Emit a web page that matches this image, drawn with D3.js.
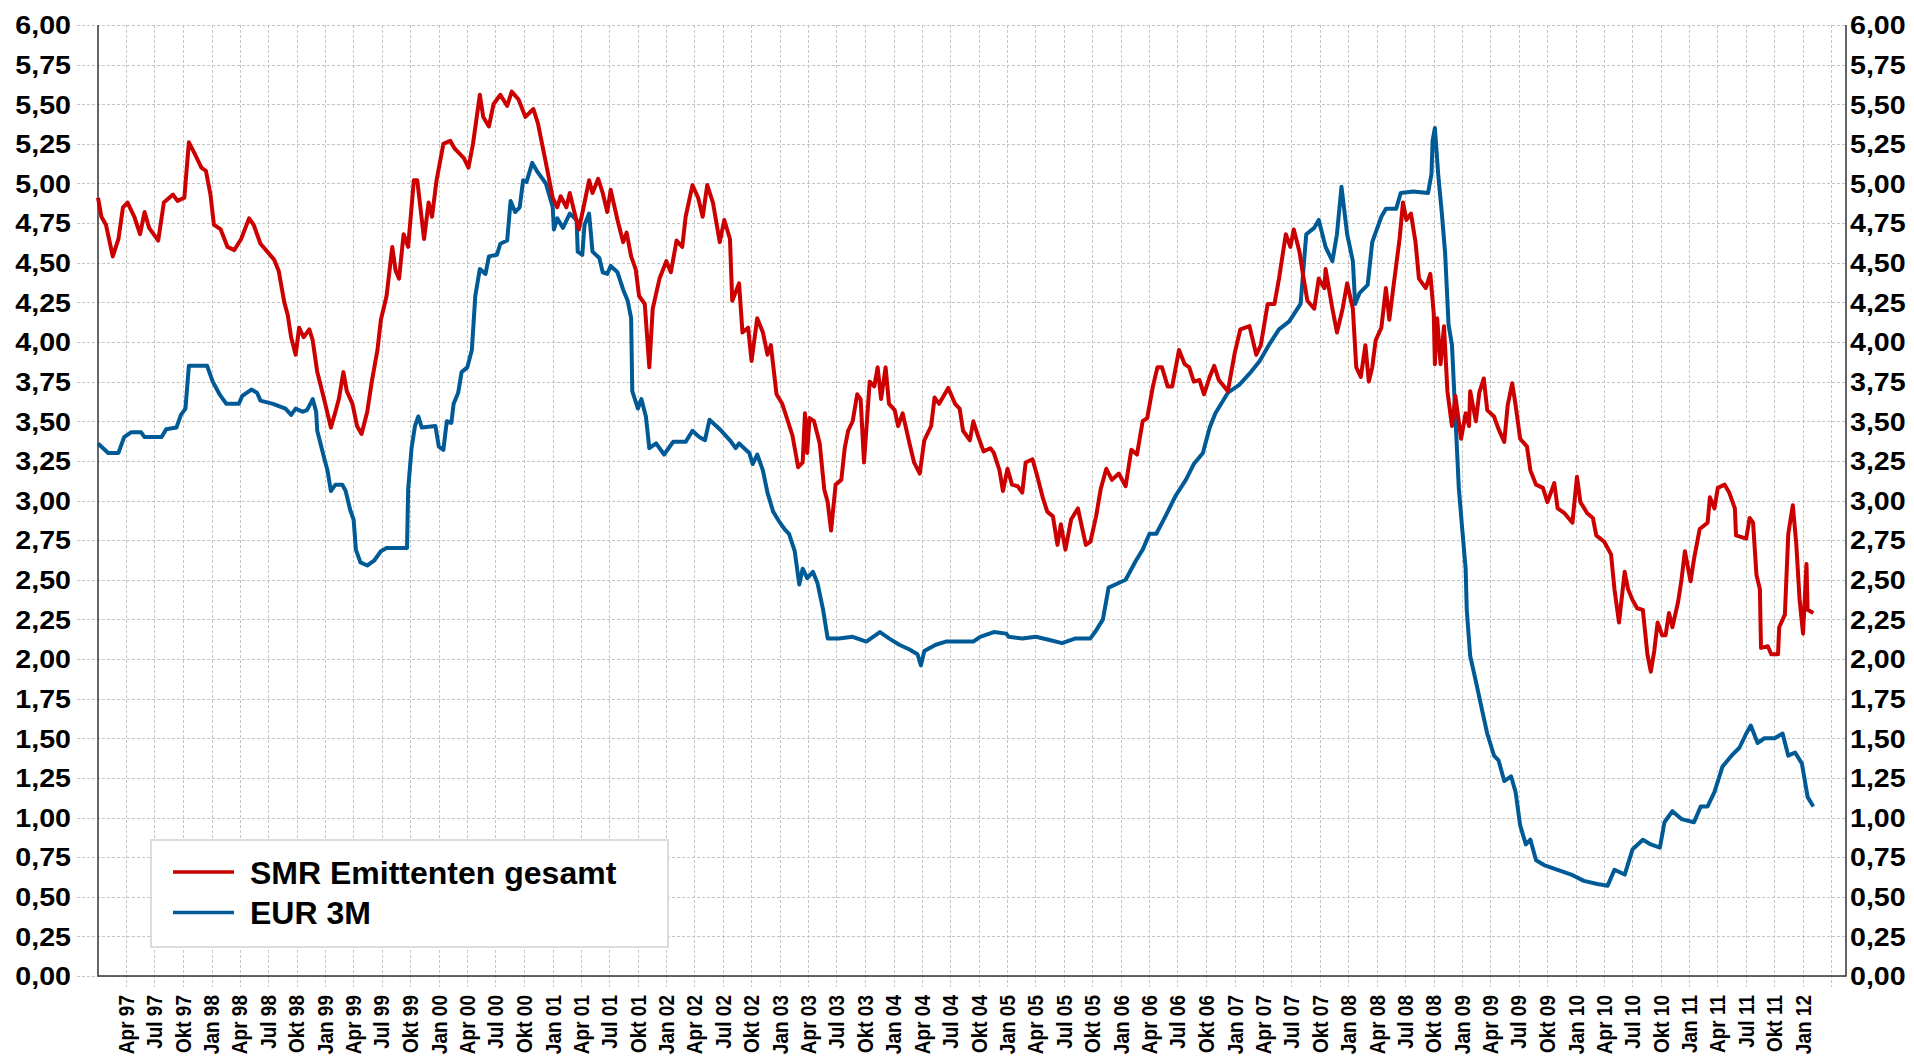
<!DOCTYPE html>
<head>
    <style>
    body { margin: 0; background: #fff; }
    text { font-family: "Liberation Sans", Arial, sans-serif; font-weight: bold; fill: #000; }
    .grid line { stroke: #c4c4c4; stroke-width: 1; stroke-dasharray: 3,2; }
    .frame { stroke: #333; stroke-width: 1.5; }
    .series { fill: none; stroke-width: 4; stroke-linejoin: round; }
    </style>
    <svg width="1914" height="1056"></svg>
    <script src="https://d3js.org/d3.v7.min.js"></script>
</head>
<body>
    <script>

    // [decimal year, yield in %]
    var smrSeries = [
      [1997.00,4.91],[1997.03,4.79],[1997.07,4.74],[1997.13,4.54],[1997.18,4.65],[1997.22,4.85],[1997.26,4.88],
      [1997.32,4.79],[1997.37,4.68],[1997.41,4.82],[1997.45,4.72],[1997.53,4.64],[1997.58,4.88],[1997.66,4.93],
      [1997.70,4.89],[1997.76,4.91],[1997.80,5.26],[1997.85,5.19],[1997.91,5.10],[1997.95,5.08],[1997.99,4.93],
      [1998.02,4.74],[1998.08,4.71],[1998.14,4.60],[1998.20,4.58],[1998.26,4.65],[1998.33,4.78],[1998.37,4.74],
      [1998.43,4.62],[1998.49,4.57],[1998.55,4.52],[1998.59,4.45],[1998.64,4.25],[1998.67,4.17],[1998.70,4.03],
      [1998.74,3.92],[1998.77,4.09],[1998.81,4.03],[1998.86,4.08],[1998.89,4.01],[1998.93,3.81],[1998.99,3.64],
      [1999.05,3.46],[1999.09,3.56],[1999.12,3.64],[1999.16,3.81],[1999.19,3.69],[1999.24,3.61],[1999.28,3.47],
      [1999.32,3.42],[1999.37,3.56],[1999.41,3.75],[1999.46,3.95],[1999.49,4.14],[1999.54,4.29],[1999.59,4.60],
      [1999.62,4.45],[1999.65,4.40],[1999.69,4.68],[1999.73,4.60],[1999.78,5.02],[1999.81,5.02],[1999.87,4.65],
      [1999.91,4.88],[1999.94,4.79],[1999.98,5.02],[2000.04,5.25],[2000.10,5.27],[2000.14,5.22],[2000.22,5.16],
      [2000.26,5.10],[2000.30,5.25],[2000.36,5.56],[2000.39,5.42],[2000.44,5.36],[2000.48,5.50],[2000.54,5.56],
      [2000.60,5.49],[2000.64,5.58],[2000.70,5.53],[2000.76,5.42],[2000.83,5.47],[2000.87,5.38],[2000.94,5.13],
      [2001.00,4.91],[2001.04,4.85],[2001.07,4.92],[2001.12,4.85],[2001.15,4.94],[2001.19,4.82],[2001.23,4.71],
      [2001.28,4.88],[2001.32,5.02],[2001.35,4.94],[2001.40,5.03],[2001.44,4.94],[2001.48,4.82],[2001.51,4.96],
      [2001.57,4.77],[2001.62,4.63],[2001.65,4.69],[2001.69,4.54],[2001.73,4.46],[2001.76,4.29],[2001.81,4.24],
      [2001.85,3.84],[2001.88,4.21],[2001.94,4.40],[2002.00,4.51],[2002.04,4.44],[2002.09,4.64],[2002.14,4.60],
      [2002.17,4.79],[2002.23,4.99],[2002.28,4.91],[2002.32,4.79],[2002.36,4.99],[2002.41,4.88],[2002.47,4.63],
      [2002.51,4.77],[2002.56,4.65],[2002.58,4.26],[2002.64,4.37],[2002.67,4.06],[2002.72,4.09],[2002.75,3.88],
      [2002.80,4.15],[2002.85,4.06],[2002.89,3.92],[2002.92,3.98],[2002.97,3.67],[2003.02,3.61],[2003.07,3.50],
      [2003.11,3.41],[2003.16,3.21],[2003.20,3.24],[2003.22,3.55],[2003.24,3.30],[2003.26,3.52],[2003.30,3.50],
      [2003.35,3.36],[2003.39,3.07],[2003.42,2.99],[2003.45,2.81],[2003.49,3.10],[2003.54,3.13],[2003.57,3.33],
      [2003.60,3.44],[2003.64,3.50],[2003.68,3.67],[2003.71,3.64],[2003.74,3.24],[2003.79,3.75],[2003.83,3.72],
      [2003.86,3.84],[2003.89,3.64],[2003.93,3.84],[2003.96,3.61],[2004.01,3.57],[2004.04,3.47],[2004.08,3.55],
      [2004.14,3.36],[2004.18,3.24],[2004.23,3.17],[2004.27,3.38],[2004.33,3.47],[2004.36,3.65],[2004.40,3.61],
      [2004.48,3.71],[2004.54,3.61],[2004.58,3.58],[2004.61,3.44],[2004.67,3.38],[2004.70,3.50],[2004.74,3.41],
      [2004.79,3.31],[2004.85,3.33],[2004.88,3.30],[2004.93,3.19],[2004.96,3.06],[2005.00,3.20],[2005.04,3.10],
      [2005.09,3.09],[2005.13,3.05],[2005.16,3.24],[2005.22,3.26],[2005.26,3.16],[2005.31,3.02],[2005.35,2.93],
      [2005.40,2.90],[2005.44,2.72],[2005.47,2.85],[2005.51,2.69],[2005.56,2.88],[2005.62,2.95],[2005.65,2.85],
      [2005.69,2.72],[2005.73,2.74],[2005.78,2.90],[2005.82,3.07],[2005.87,3.20],[2005.92,3.13],[2005.98,3.17],
      [2006.04,3.09],[2006.09,3.32],[2006.14,3.29],[2006.19,3.50],[2006.23,3.52],[2006.28,3.72],[2006.32,3.84],
      [2006.36,3.84],[2006.41,3.72],[2006.45,3.72],[2006.51,3.95],[2006.56,3.86],[2006.60,3.84],[2006.64,3.75],
      [2006.69,3.76],[2006.73,3.67],[2006.78,3.78],[2006.82,3.85],[2006.86,3.76],[2006.94,3.69],[2007.00,3.93],
      [2007.05,4.08],[2007.13,4.10],[2007.19,3.92],[2007.23,3.98],[2007.29,4.24],[2007.35,4.24],[2007.39,4.40],
      [2007.45,4.68],[2007.49,4.60],[2007.52,4.71],[2007.57,4.57],[2007.60,4.43],[2007.64,4.26],[2007.70,4.21],
      [2007.74,4.40],[2007.79,4.34],[2007.80,4.46],[2007.86,4.21],[2007.90,4.06],[2007.95,4.21],[2007.99,4.37],
      [2008.04,4.21],[2008.07,3.84],[2008.11,3.78],[2008.15,3.98],[2008.18,3.75],[2008.21,3.84],[2008.24,4.01],
      [2008.29,4.09],[2008.33,4.34],[2008.36,4.14],[2008.40,4.37],[2008.45,4.65],[2008.48,4.88],[2008.51,4.77],
      [2008.55,4.81],[2008.59,4.63],[2008.62,4.40],[2008.68,4.34],[2008.72,4.43],[2008.75,4.18],[2008.76,3.86],
      [2008.78,4.15],[2008.81,3.86],[2008.84,4.10],[2008.87,3.69],[2008.91,3.47],[2008.94,3.66],[2008.99,3.39],
      [2009.03,3.55],[2009.06,3.47],[2009.07,3.69],[2009.12,3.50],[2009.15,3.68],[2009.19,3.77],[2009.22,3.57],
      [2009.28,3.53],[2009.32,3.45],[2009.37,3.37],[2009.40,3.60],[2009.44,3.74],[2009.47,3.60],[2009.51,3.39],
      [2009.57,3.34],[2009.60,3.19],[2009.65,3.10],[2009.71,3.08],[2009.75,2.99],[2009.81,3.11],[2009.84,2.95],
      [2009.90,2.92],[2009.97,2.86],[2010.01,3.15],[2010.04,2.99],[2010.10,2.92],[2010.15,2.89],[2010.18,2.78],
      [2010.25,2.74],[2010.31,2.66],[2010.34,2.44],[2010.38,2.23],[2010.43,2.55],[2010.46,2.44],[2010.50,2.37],
      [2010.54,2.32],[2010.59,2.31],[2010.63,2.03],[2010.66,1.92],[2010.69,2.05],[2010.72,2.23],[2010.76,2.15],
      [2010.79,2.15],[2010.82,2.29],[2010.85,2.20],[2010.90,2.36],[2010.93,2.50],[2010.96,2.68],[2011.01,2.49],
      [2011.04,2.63],[2011.09,2.82],[2011.16,2.86],[2011.18,3.02],[2011.22,2.95],[2011.25,3.08],[2011.31,3.10],
      [2011.35,3.05],[2011.40,2.95],[2011.41,2.78],[2011.50,2.76],[2011.53,2.89],[2011.56,2.86],[2011.59,2.53],
      [2011.62,2.44],[2011.63,2.07],[2011.69,2.08],[2011.72,2.03],[2011.78,2.03],[2011.79,2.20],[2011.84,2.28],
      [2011.87,2.79],[2011.91,2.97],[2011.94,2.73],[2011.97,2.37],[2012.00,2.16],[2012.03,2.60],[2012.04,2.31],
      [2012.09,2.29]
    ];

    var eurSeries = [
      [1997.00,3.36],[1997.09,3.30],[1997.18,3.30],[1997.23,3.40],[1997.29,3.43],[1997.38,3.43],[1997.41,3.40],
      [1997.56,3.40],[1997.60,3.45],[1997.69,3.46],[1997.73,3.54],[1997.77,3.58],[1997.80,3.85],[1997.96,3.85],
      [1998.01,3.75],[1998.07,3.67],[1998.13,3.61],[1998.24,3.61],[1998.27,3.66],[1998.35,3.70],[1998.40,3.68],
      [1998.43,3.63],[1998.54,3.61],[1998.65,3.58],[1998.70,3.54],[1998.74,3.58],[1998.80,3.56],[1998.84,3.57],
      [1998.89,3.64],[1998.92,3.56],[1998.93,3.44],[1998.99,3.27],[1999.02,3.19],[1999.05,3.06],[1999.09,3.10],
      [1999.15,3.10],[1999.18,3.06],[1999.22,2.94],[1999.25,2.88],[1999.27,2.69],[1999.31,2.61],[1999.37,2.59],
      [1999.43,2.62],[1999.49,2.68],[1999.54,2.70],[1999.72,2.70],[1999.73,3.07],[1999.76,3.33],[1999.79,3.47],
      [1999.82,3.53],[1999.85,3.46],[1999.97,3.47],[2000.00,3.34],[2000.04,3.32],[2000.07,3.50],[2000.11,3.49],
      [2000.13,3.61],[2000.17,3.68],[2000.20,3.81],[2000.25,3.84],[2000.29,3.95],[2000.32,4.29],[2000.36,4.46],
      [2000.41,4.43],[2000.44,4.54],[2000.51,4.55],[2000.54,4.62],[2000.60,4.64],[2000.63,4.89],[2000.67,4.82],
      [2000.71,4.85],[2000.74,5.02],[2000.77,5.01],[2000.82,5.13],[2000.86,5.08],[2000.94,5.00],[2001.00,4.85],
      [2001.01,4.71],[2001.04,4.78],[2001.09,4.72],[2001.15,4.81],[2001.21,4.77],[2001.22,4.57],[2001.26,4.55],
      [2001.28,4.74],[2001.32,4.81],[2001.35,4.57],[2001.41,4.53],[2001.44,4.44],[2001.48,4.43],[2001.51,4.48],
      [2001.57,4.44],[2001.62,4.33],[2001.66,4.26],[2001.69,4.15],[2001.70,3.69],[2001.75,3.58],[2001.78,3.64],
      [2001.82,3.53],[2001.85,3.33],[2001.91,3.36],[2001.98,3.29],[2002.06,3.37],[2002.17,3.37],[2002.23,3.44],
      [2002.29,3.40],[2002.34,3.38],[2002.38,3.51],[2002.47,3.45],[2002.56,3.38],[2002.61,3.33],[2002.64,3.36],
      [2002.73,3.30],[2002.76,3.23],[2002.80,3.29],[2002.85,3.19],[2002.89,3.05],[2002.94,2.93],[2003.00,2.86],
      [2003.04,2.82],[2003.08,2.79],[2003.13,2.68],[2003.17,2.47],[2003.20,2.57],[2003.24,2.51],[2003.29,2.55],
      [2003.33,2.48],[2003.38,2.31],[2003.42,2.13],[2003.52,2.13],[2003.64,2.14],[2003.76,2.11],[2003.88,2.17],
      [2003.96,2.13],[2004.05,2.09],[2004.14,2.06],[2004.21,2.03],[2004.24,1.96],[2004.27,2.05],[2004.37,2.09],
      [2004.46,2.11],[2004.58,2.11],[2004.70,2.11],[2004.76,2.14],[2004.88,2.17],[2004.99,2.16],[2005.01,2.14],
      [2005.13,2.13],[2005.25,2.14],[2005.37,2.12],[2005.48,2.10],[2005.60,2.13],[2005.73,2.13],[2005.78,2.18],
      [2005.84,2.25],[2005.89,2.45],[2005.95,2.47],[2006.04,2.50],[2006.13,2.62],[2006.19,2.69],[2006.25,2.79],
      [2006.31,2.79],[2006.39,2.90],[2006.48,3.03],[2006.57,3.13],[2006.64,3.23],[2006.72,3.30],[2006.78,3.46],
      [2006.83,3.55],[2006.94,3.68],[2007.04,3.73],[2007.13,3.80],[2007.22,3.88],[2007.30,3.98],[2007.39,4.08],
      [2007.48,4.13],[2007.58,4.24],[2007.63,4.68],[2007.70,4.72],[2007.74,4.77],[2007.80,4.60],[2007.86,4.51],
      [2007.90,4.68],[2007.94,4.98],[2007.99,4.68],[2008.04,4.51],[2008.06,4.24],[2008.10,4.31],[2008.17,4.36],
      [2008.21,4.63],[2008.29,4.79],[2008.33,4.84],[2008.42,4.84],[2008.46,4.94],[2008.57,4.95],[2008.70,4.94],
      [2008.73,5.06],[2008.74,5.27],[2008.76,5.35],[2008.79,5.05],[2008.82,4.82],[2008.85,4.56],[2008.88,4.11],
      [2008.91,3.98],[2008.94,3.53],[2008.97,3.08],[2009.00,2.82],[2009.03,2.57],[2009.04,2.31],[2009.07,2.02],
      [2009.12,1.86],[2009.18,1.66],[2009.22,1.53],[2009.28,1.39],[2009.32,1.36],[2009.37,1.23],[2009.43,1.26],
      [2009.47,1.16],[2009.51,0.95],[2009.56,0.83],[2009.60,0.86],[2009.65,0.73],[2009.72,0.70],[2009.84,0.67],
      [2009.96,0.64],[2010.07,0.60],[2010.19,0.58],[2010.28,0.57],[2010.34,0.67],[2010.43,0.64],[2010.50,0.80],
      [2010.59,0.86],[2010.66,0.83],[2010.74,0.81],[2010.78,0.97],[2010.85,1.04],[2010.93,0.99],[2011.04,0.97],
      [2011.10,1.07],[2011.16,1.07],[2011.22,1.16],[2011.29,1.32],[2011.37,1.39],[2011.44,1.44],[2011.50,1.53],
      [2011.54,1.58],[2011.60,1.47],[2011.66,1.50],[2011.75,1.50],[2011.82,1.53],[2011.87,1.39],[2011.93,1.41],
      [2011.99,1.34],[2012.04,1.13],[2012.09,1.07]
    ];

    var seriesNames = ["SMR Emittenten gesamt", "EUR 3M"];
    var seriesColors = ["#cc0000", "#005a96"];
    var yTicks = d3.range(0, 6.001, 0.25);
    var quarterNames = ["Jan", "Apr", "Jul", "Okt"];

    var svg = d3.select("svg"),
        width = +svg.attr("width"),
        height = +svg.attr("height");

    var margin = {top: 25, right: 68, bottom: 80, left: 98};
    var x0 = margin.left, x1 = width - margin.right,
        y0 = height - margin.bottom, y1 = margin.top;

    function toDate(t) {
      var yr = Math.floor(t),
          a = new Date(yr, 0, 1), b = new Date(yr + 1, 0, 1);
      return new Date(+a + (t - yr) * (b - a));
    }

    var x = d3.scaleTime()
        .domain([new Date(1997, 0, 1), new Date(2012, 4, 18)])
        .range([x0, x1]);

    var y = d3.scaleLinear()
        .domain([0, 6])
        .range([y0, y1]);

    var fmt = function(v) { return d3.format(".2f")(v).replace(".", ","); };

    var quarters = d3.timeMonth.every(3).range(new Date(1997, 3, 1), new Date(2012, 4, 1));

    // grid
    var grid = svg.append("g").attr("class", "grid");
    grid.selectAll(".h").data(yTicks).enter().append("line")
        .attr("x1", x0 - 21).attr("x2", x1)
        .attr("y1", function(d) { return Math.round(y(d)) + 0.5; })
        .attr("y2", function(d) { return Math.round(y(d)) + 0.5; });
    grid.selectAll(".v").data(quarters).enter().append("line")
        .attr("x1", function(d) { return Math.round(x(d)) + 0.5; })
        .attr("x2", function(d) { return Math.round(x(d)) + 0.5; })
        .attr("y1", y1).attr("y2", y0 + 11);

    // frame
    svg.append("path")
        .attr("class", "frame")
        .attr("fill", "none")
        .attr("d", "M" + x0 + "," + y1 + "V" + y0 + "H" + x1 + "V" + y1);

    // y labels left and right
    svg.append("g").selectAll("text").data(yTicks).enter().append("text")
        .attr("transform", function(d) { return "translate(71," + y(d) + ") scale(1.1,1)"; })
        .attr("text-anchor", "end")
        .attr("dy", "0.36em")
        .style("font-size", "26px")
        .text(fmt);

    svg.append("g").selectAll("text").data(yTicks).enter().append("text")
        .attr("transform", function(d) { return "translate(" + (x1 + 4) + "," + y(d) + ") scale(1.1,1)"; })
        .attr("dy", "0.36em")
        .style("font-size", "26px")
        .text(fmt);

    // x labels
    svg.append("g").selectAll("text")
        .data(quarters.filter(function(d) { return d <= new Date(2012, 0, 1); }))
        .enter().append("text")
        .attr("transform", function(d) { return "translate(" + x(d) + "," + (y0 + 19) + ") rotate(-90) scale(1,1.15)"; })
        .attr("text-anchor", "end")
        .attr("dy", "0.36em")
        .style("font-size", "19px")
        .text(function(d) { return quarterNames[d.getMonth() / 3] + " " + d3.timeFormat("%y")(d); });

    // series
    var line = d3.line()
        .x(function(d) { return x(toDate(d[0])); })
        .y(function(d) { return y(d[1]); });

    svg.selectAll(".series").data([eurSeries, smrSeries]).enter().append("path")
        .attr("class", "series")
        .attr("stroke", function(d, i) { return seriesColors[1 - i]; })
        .attr("d", line);

    // legend
    var legend = svg.append("g").attr("transform", "translate(151,840)");
    legend.append("rect")
        .attr("width", 517).attr("height", 107)
        .attr("fill", "#fff").attr("stroke", "#dcdcdc").attr("stroke-width", 2);
    var item = legend.selectAll(".item").data(seriesNames).enter().append("g")
        .attr("transform", function(d, i) { return "translate(0," + (32 + i * 40.5) + ")"; });
    item.append("line")
        .attr("x1", 22).attr("x2", 83)
        .attr("stroke", function(d, i) { return seriesColors[i]; })
        .attr("stroke-width", 3.5);
    item.append("text")
        .attr("x", 99).attr("dy", "0.36em")
        .style("font-size", "32px")
        .text(function(d) { return d; });

    </script>
</body>
